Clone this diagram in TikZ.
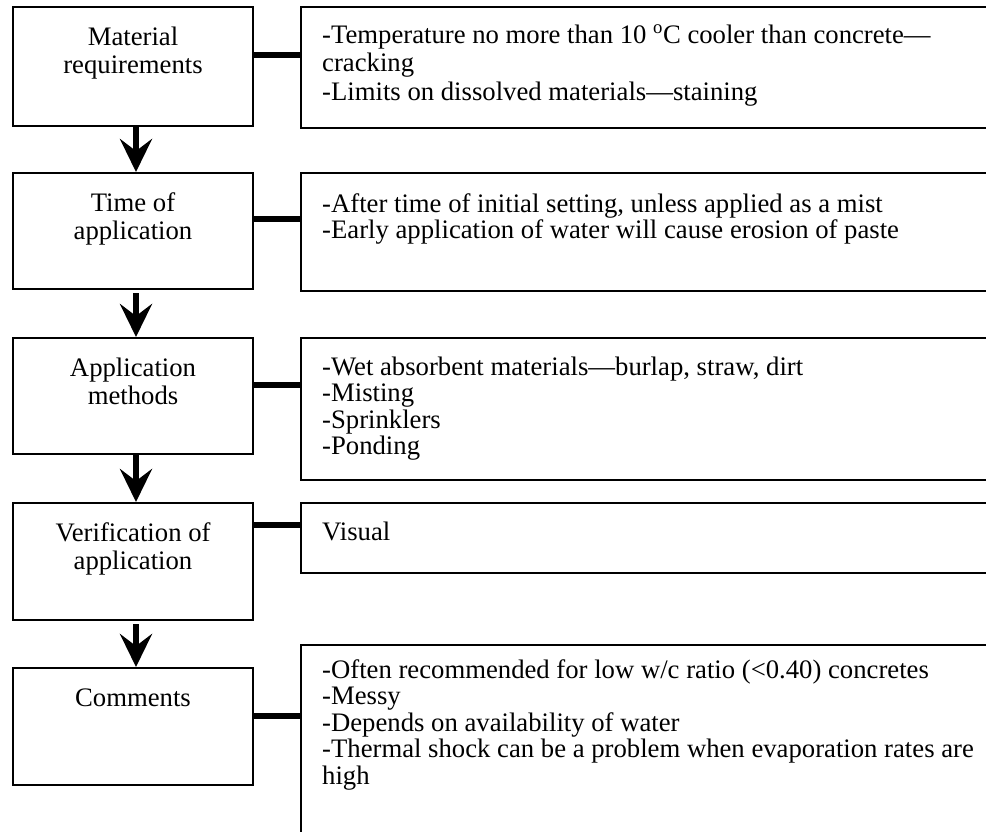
\documentclass[tikz,border=0pt]{standalone}
\usepackage{fontspec}
\setmainfont{Liberation Serif}
\usetikzlibrary{arrows.meta}
\begin{document}
\begin{tikzpicture}[x=1pt,y=-1pt,
  box/.style={draw, line width=2pt, rectangle, inner sep=0pt},
  lbox/.style={box, minimum width=240pt},
  rbox/.style={box, minimum width=699pt},
  ltxt/.style={anchor=base, align=center, inner sep=0pt, font=\fontsize{26.7}{28}\selectfont},
  rtxt/.style={anchor=base west, align=left, inner sep=0pt, font=\fontsize{26.7}{#1}\selectfont},
  conn/.style={line width=5.5pt},
  flow/.style={line width=6.5pt, -{Stealth[length=33pt,width=32pt,inset=12pt]}}
]
\useasboundingbox (0,0) rectangle (986,831);
\clip (0,0) rectangle (986,831);
% left boxes
\node[lbox, minimum height=119pt] (L1) at (133,66.5) {};
\node[lbox, minimum height=116pt] (L2) at (133,231) {};
\node[lbox, minimum height=116pt] (L3) at (133,396) {};
\node[lbox, minimum height=117pt] (L4) at (133,561.5) {};
\node[lbox, minimum height=117pt] (L5) at (133,726.5) {};
% right boxes
\node[rbox, minimum height=121pt] (R1) at (650.5,67.5) {};
\node[rbox, minimum height=118pt] (R2) at (650.5,232) {};
\node[rbox, minimum height=142pt] (R3) at (650.5,409) {};
\node[rbox, minimum height=70pt] (R4) at (650.5,538) {};
\node[rbox, minimum height=215pt] (R5) at (650.5,752.5) {};
% left texts (anchor = baseline of last line)
\node[ltxt] (t1) at (133,73) {Material\\requirements};
\node[ltxt] (t2) at (133,239) {Time of\\application};
\node[ltxt] (t3) at (133,404) {Application\\methods};
\node[ltxt] (t4) at (133,569) {Verification of\\application};
\node[ltxt] (t5) at (133,706) {Comments};
% right texts (anchor = baseline of last line)
\node[rtxt=28.5] (s1) at (322,100) {-Temperature no more than 10 \textsuperscript{o}C cooler than concrete—\\cracking\\-Limits on dissolved materials—staining};
\node[rtxt=26] (s2) at (322,238) {-After time of initial setting, unless applied as a mist\\-Early application of water will cause erosion of paste};
\node[rtxt=26.5] (s3) at (322,454.5) {-Wet absorbent materials—burlap, straw, dirt\\-Misting\\-Sprinklers\\-Ponding};
\node[rtxt=28] (s4) at (322,540) {Visual};
\node[rtxt=26.5] (s5) at (322,784) {-Often recommended for low w/c ratio (<0.40) concretes\\-Messy\\-Depends on availability of water\\-Thermal shock can be a problem when evaporation rates are\\high};
% connectors
\coordinate (c1) at (0,55);
\coordinate (c2) at (0,219);
\coordinate (c3) at (0,385);
\coordinate (c4) at (0,525);
\coordinate (c5) at (0,716);
\draw[conn] (L1.east |- c1) -- (R1.west |- c1);
\draw[conn] (L2.east |- c2) -- (R2.west |- c2);
\draw[conn] (L3.east |- c3) -- (R3.west |- c3);
\draw[conn] (L4.east |- c4) -- (R4.west |- c4);
\draw[conn] (L5.east |- c5) -- (R5.west |- c5);
% flow arrows
\draw[flow] ([xshift=3pt]L1.south) -- ([xshift=3pt]L2.north);
\draw[flow, shorten <=3pt] ([xshift=3pt]L2.south) -- ([xshift=3pt]L3.north);
\draw[flow] ([xshift=3pt]L3.south) -- ([xshift=3pt]L4.north);
\draw[flow, shorten <=3pt] ([xshift=3pt]L4.south) -- ([xshift=3pt]L5.north);
\end{tikzpicture}
\end{document}
